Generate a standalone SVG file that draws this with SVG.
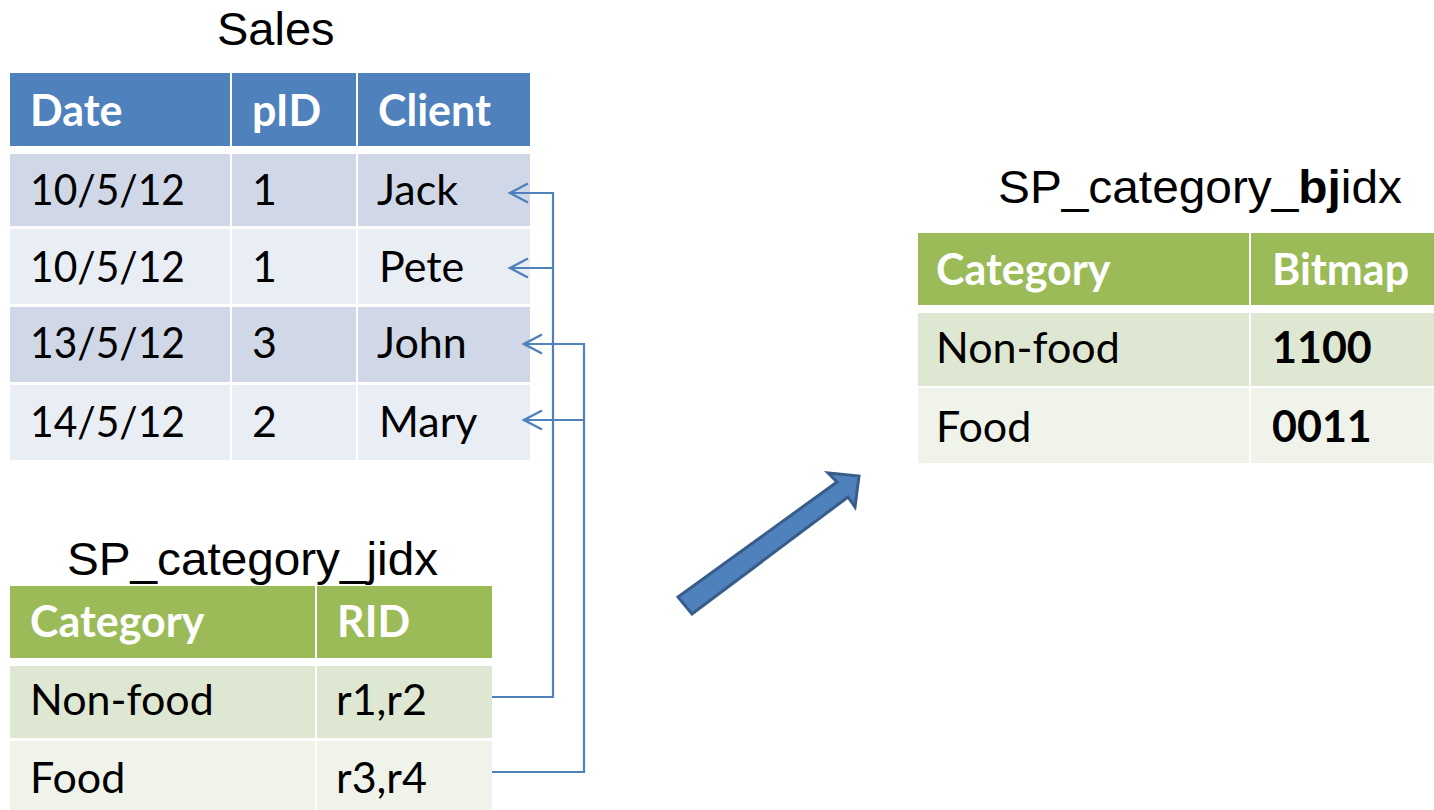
<svg xmlns="http://www.w3.org/2000/svg" width="1434" height="810" viewBox="0 0 1434 810">
<style>
.t{font-family:Lato,"Open Sans","DejaVu Sans",sans-serif;font-size:43px;fill:#000}
.h{font-family:Lato,"Open Sans","DejaVu Sans",sans-serif;font-size:43px;font-weight:bold;fill:#fff}
.b{font-weight:bold}
.title{font-family:"Liberation Sans",Arial,sans-serif;font-size:47px;fill:#000}
.bh{fill:#4F81BD}.b1{fill:#D0D8E8}.b2{fill:#E9EDF4}
.gh{fill:#9BBB59}.g1{fill:#DEE7D1}.g2{fill:#EFF3EA}
.conn{fill:none;stroke:#4F81BD;stroke-width:2.2}
</style>
<defs>
<marker id="chev" markerUnits="userSpaceOnUse" markerWidth="24" markerHeight="24" viewBox="-22 -12 24 24" refX="0" refY="0" orient="auto" overflow="visible">
<path d="M-18,-9.5 L0,0 L-18,9.5" fill="none" stroke="#4F81BD" stroke-width="2.5"/>
</marker>
</defs>
<rect width="1434" height="810" fill="#fff"/>

<g id="sales">
<text class="title" x="217" y="45">Sales</text>
<rect class="bh" x="10" y="73" width="220" height="73"/>
<rect class="bh" x="232" y="73" width="124" height="73"/>
<rect class="bh" x="358" y="73" width="172" height="73"/>
<rect class="b1" x="10" y="154" width="220" height="72"/>
<rect class="b1" x="232" y="154" width="124" height="72"/>
<rect class="b1" x="358" y="154" width="172" height="72"/>
<rect class="b2" x="10" y="229" width="220" height="75"/>
<rect class="b2" x="232" y="229" width="124" height="75"/>
<rect class="b2" x="358" y="229" width="172" height="75"/>
<rect class="b1" x="10" y="307" width="220" height="75"/>
<rect class="b1" x="232" y="307" width="124" height="75"/>
<rect class="b1" x="358" y="307" width="172" height="75"/>
<rect class="b2" x="10" y="385" width="220" height="75"/>
<rect class="b2" x="232" y="385" width="124" height="75"/>
<rect class="b2" x="358" y="385" width="172" height="75"/>
<text class="h" x="30" y="126">Date</text>
<text class="h" x="252" y="126">pID</text>
<text class="h" x="378" y="126">Client</text>
<text class="t" x="30" y="205" textLength="155" lengthAdjust="spacingAndGlyphs">10/5/12</text>
<text class="t" x="252" y="205">1</text>
<text class="t" x="377" y="205">Jack</text>
<text class="t" x="30" y="282" textLength="155" lengthAdjust="spacingAndGlyphs">10/5/12</text>
<text class="t" x="252" y="282">1</text>
<text class="t" x="379" y="282">Pete</text>
<text class="t" x="30" y="358" textLength="155" lengthAdjust="spacingAndGlyphs">13/5/12</text>
<text class="t" x="252" y="358">3</text>
<text class="t" x="377" y="358">John</text>
<text class="t" x="30" y="437" textLength="155" lengthAdjust="spacingAndGlyphs">14/5/12</text>
<text class="t" x="252" y="437">2</text>
<text class="t" x="379" y="437">Mary</text>
</g>

<g id="jidx">
<text class="title" x="67" y="575" textLength="371" lengthAdjust="spacingAndGlyphs">SP_category_jidx</text>
<rect class="gh" x="10" y="586" width="305" height="72"/>
<rect class="gh" x="317" y="586" width="175" height="72"/>
<rect class="g1" x="10" y="666" width="305" height="72"/>
<rect class="g1" x="317" y="666" width="175" height="72"/>
<rect class="g2" x="10" y="741" width="305" height="69"/>
<rect class="g2" x="317" y="741" width="175" height="69"/>
<text class="h" x="30" y="637">Category</text>
<text class="h" x="337" y="637">RID</text>
<text class="t" x="30" y="715">Non-food</text>
<text class="t" x="336" y="715">r1,r2</text>
<text class="t" x="30" y="793">Food</text>
<text class="t" x="336" y="793">r3,r4</text>
</g>

<g id="bjidx">
<text class="title" x="998" y="203" textLength="404" lengthAdjust="spacingAndGlyphs">SP_category_<tspan class="b">bj</tspan>idx</text>
<rect class="gh" x="918" y="233" width="331" height="72"/>
<rect class="gh" x="1251" y="233" width="183" height="72"/>
<rect class="g1" x="918" y="313" width="331" height="73"/>
<rect class="g1" x="1251" y="313" width="183" height="73"/>
<rect class="g2" x="918" y="388" width="331" height="75"/>
<rect class="g2" x="1251" y="388" width="183" height="75"/>
<text class="h" x="936" y="285">Category</text>
<text class="h" x="1272" y="285">Bitmap</text>
<text class="t" x="936" y="363">Non-food</text>
<text class="t b" x="1272" y="363">1100</text>
<text class="t" x="936" y="442">Food</text>
<text class="t b" x="1272" y="442">0011</text>
</g>

<g id="connectors">
<path class="conn" d="M492,697 H553 V193 H510" marker-end="url(#chev)"/>
<path class="conn" d="M553,268 H510" marker-end="url(#chev)"/>
<path class="conn" d="M492,772 H584 V344 H524" marker-end="url(#chev)"/>
<path class="conn" d="M584,420 H524" marker-end="url(#chev)"/>
</g>

<g id="big-arrow">
<path d="M678,597 L837,482 L828,473 L859,476 L855,507 L848,497 L692,614 Z" fill="#4F81BD" stroke="#385D8A" stroke-width="3" stroke-linejoin="miter"/>
</g>
</svg>
